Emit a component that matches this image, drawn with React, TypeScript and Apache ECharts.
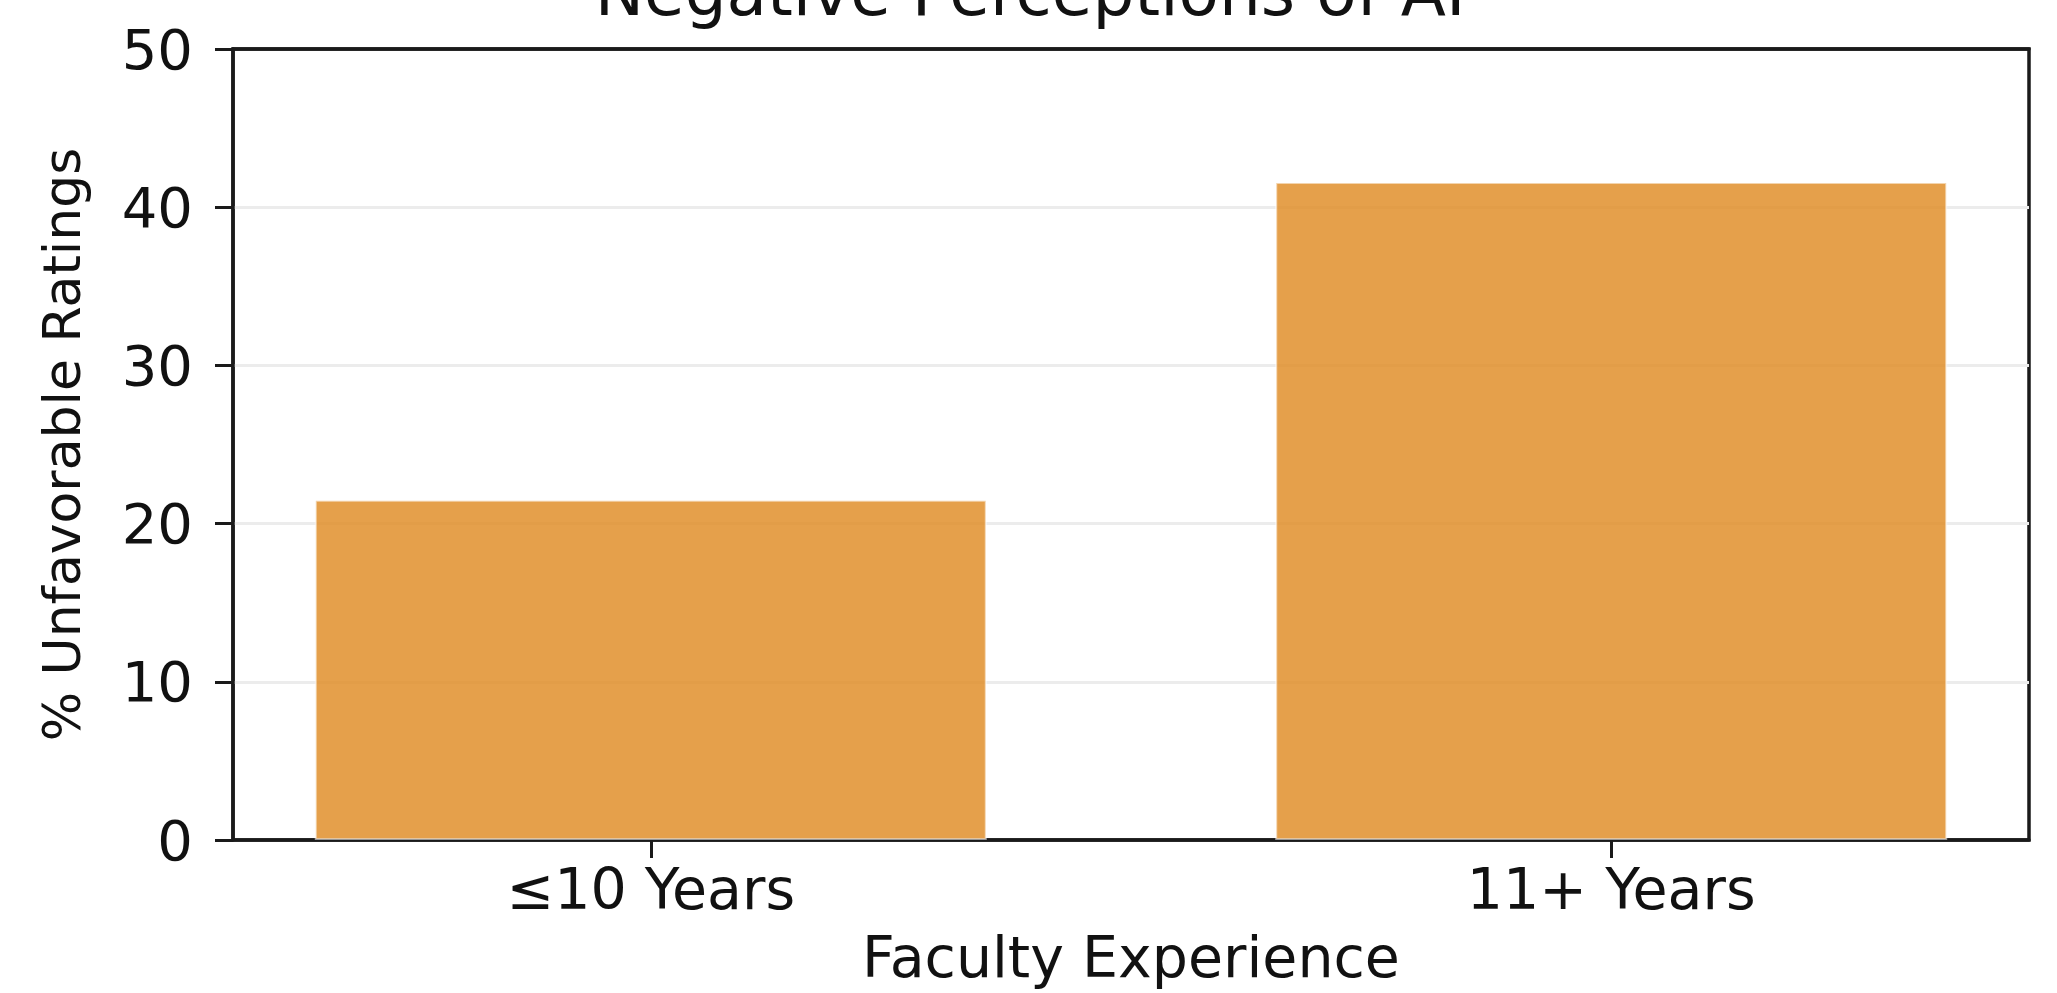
import React, { useEffect, useRef } from "react";
import * as echarts from "echarts";

const categories: string[] = ["≤10 Years", "11+ Years"];
const unfavorable: number[] = [21.5, 41.6];
const yTicks: number[] = [0, 10, 20, 30, 40, 50];
const titleText = "Negative Perceptions of AI";
const xName = "Faculty Experience";
const yName = "% Unfavorable Ratings";

const FONT = "DejaVu Sans";

export default function App() {
  const ref = useRef<HTMLDivElement>(null);
  useEffect(() => {
    if (!ref.current) return;
    const chart = echarts.init(ref.current, undefined, { renderer: "svg" });
    const gridLeft = 233;
    const gridRight = 28;
    const width = 2057;
    const plotW = width - gridLeft - gridRight;
    const xMin = -0.435;
    const xMax = 1.435;
    const unit = plotW / (xMax - xMin);
    chart.setOption({
      animation: false,
      backgroundColor: "#ffffff",
      textStyle: { fontFamily: FONT },
      graphic: [
        {
          type: "text",
          x: 1030,
          y: 25,
          style: {
            text: titleText,
            fontFamily: FONT,
            fontSize: 66,
            fill: "#111",
            align: "center",
            verticalAlign: "bottom",
          },
        },
      ],
      grid: {
        left: gridLeft,
        right: gridRight,
        top: 49,
        bottom: 153,
        show: true,
        borderColor: "#1a1a1a",
        borderWidth: 3.5,
        containLabel: false,
      },
      xAxis: [
        {
          type: "value",
          min: xMin,
          max: xMax,
          name: xName,
          nameLocation: "middle",
          nameGap: 88,
          nameTextStyle: { fontFamily: FONT, fontSize: 57, color: "#111" },
          axisLine: { show: true, onZero: false, lineStyle: { color: "#1a1a1a", width: 3.5 } },
          axisTick: {
            show: true,
            customValues: [0, 1],
            length: 18,
            lineStyle: { color: "#1a1a1a", width: 3 },
          },
          axisLabel: {
            show: true,
            customValues: [0, 1],
            margin: 20,
            fontFamily: FONT,
            fontSize: 57,
            color: "#111",
            formatter: (v: number) => categories[Math.round(v)] ?? "",
          },
          splitLine: { show: false },
        },
        {
          type: "value",
          position: "top",
          min: xMin,
          max: xMax,
          axisLine: { show: true, onZero: false, lineStyle: { color: "#1a1a1a", width: 3.5 } },
          axisTick: { show: false },
          axisLabel: { show: false },
          splitLine: { show: false },
        },
      ],
      yAxis: {
        type: "value",
        min: yTicks[0],
        max: yTicks[yTicks.length - 1],
        interval: 10,
        name: yName,
        nameLocation: "middle",
        nameGap: 145,
        nameTextStyle: { fontFamily: FONT, fontSize: 52, color: "#111" },
        axisLine: { show: true, onZero: false, lineStyle: { color: "#1a1a1a", width: 3.5 } },
        axisTick: {
          show: true,
          length: 18,
          lineStyle: { color: "#1a1a1a", width: 3 },
        },
        axisLabel: {
          margin: 40,
          fontFamily: FONT,
          fontSize: 56,
          color: "#111",
        },
        splitLine: {
          show: true,
          showMinLine: false,
          showMaxLine: false,
          lineStyle: { color: "#ececec", width: 3 },
        },
      },
      series: [
        {
          type: "bar",
          xAxisIndex: 0,
          data: unfavorable.map((v, i) => [i, v]),
          barWidth: Math.round(0.7 * unit),
          itemStyle: {
            color: "rgba(224,143,43,0.85)",
            borderColor: "rgba(255,255,255,0.55)",
            borderWidth: 2,
          },
        },
      ],
    });
    return () => chart.dispose();
  }, []);
  return (
    <div
      ref={ref}
      style={{ position: "fixed", left: 0, top: 0, width: 2057, height: 993 }}
    />
  );
}
